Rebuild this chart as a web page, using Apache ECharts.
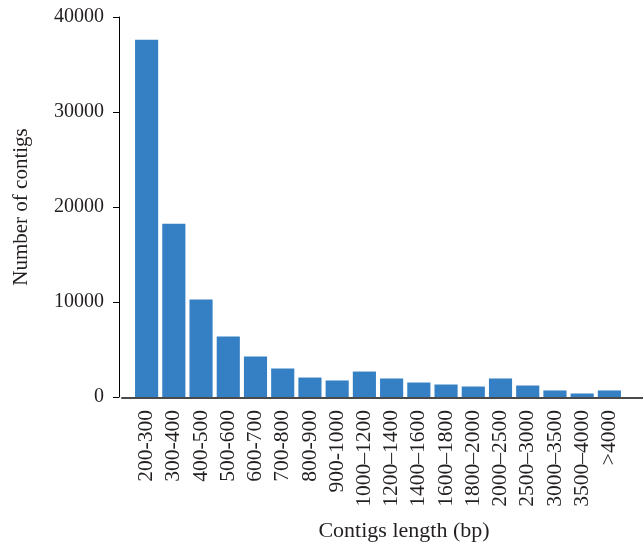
<!DOCTYPE html>
<html>
<head>
<meta charset="utf-8">
<script src="https://cdn.jsdelivr.net/npm/echarts@6/dist/echarts.min.js"></script>
<style>
html,body{margin:0;padding:0;background:#fff;}
#main{width:643px;height:543px;}
</style>
</head>
<body>
<div id="main"></div>
<script>
var categories = ['200-300','300-400','400-500','500-600','600-700','700-800','800-900','900-1000',
  '1000\u20131200','1200\u20131400','1400\u20131600','1600\u20131800','1800\u20132000','2000\u20132500',
  '2500\u20133000','3000\u20133500','3500\u20134000','>4000'];
var contigCounts = [37600, 18250, 10260, 6370, 4260, 3000, 2050, 1740, 2680, 1950, 1525, 1315, 1105, 1950, 1210, 690, 370, 690];
var yTicks = {min: 0, max: 40000, interval: 10000};
var xName = 'Contigs length (bp)';
var yName = 'Number of contigs';

var FONT = '"Liberation Serif", "DejaVu Serif", serif';
var chart = echarts.init(document.getElementById('main'), null, {renderer: 'canvas'});
chart.setOption({
  animation: false,
  backgroundColor: '#ffffff',
  grid: [
    {left: 133, right: 20, top: 17, bottom: 146, containLabel: false, outerBoundsMode: 'none'},
    {left: 122, right: 0, top: 17, bottom: 145, containLabel: false, outerBoundsMode: 'none'}
  ],
  xAxis: [
    {
      gridIndex: 0,
      type: 'category',
      data: categories,
      boundaryGap: true,
      axisLine: {show: false},
      axisTick: {show: false},
      axisLabel: {
        rotate: 90, margin: 13, color: '#231f20', fontSize: 21.5, fontFamily: FONT, interval: 0
      },
      name: xName,
      nameLocation: 'middle',
      nameGap: 123,
      nameTextStyle: {color: '#231f20', fontSize: 22, fontFamily: FONT, padding: [0, 0, 0, 52]}
    },
    {
      gridIndex: 1,
      type: 'value',
      min: 0, max: 1,
      axisLine: {show: true, lineStyle: {color: '#4a4a4a', width: 2}},
      axisTick: {show: false},
      axisLabel: {show: false},
      splitLine: {show: false}
    }
  ],
  yAxis: [
    {
      gridIndex: 0,
      type: 'value',
      min: yTicks.min, max: yTicks.max, interval: yTicks.interval,
      offset: 14,
      axisLine: {show: true, lineStyle: {color: '#000', width: 1}},
      axisTick: {show: true, length: 6, lineStyle: {color: '#000'}},
      axisLabel: {margin: 15, color: '#231f20', fontSize: 20, fontFamily: FONT,
        formatter: function (v) { return String(v); }},
      splitLine: {show: false},
      name: yName,
      nameLocation: 'middle',
      nameGap: 87,
      nameTextStyle: {color: '#231f20', fontSize: 21, fontFamily: FONT}
    },
    {
      gridIndex: 1,
      type: 'value',
      show: false
    }
  ],
  series: [{
    type: 'bar',
    xAxisIndex: 0, yAxisIndex: 0,
    data: contigCounts,
    barCategoryGap: '15%',
    itemStyle: {color: '#3580c4'}
  }]
});
</script>
</body>
</html>
